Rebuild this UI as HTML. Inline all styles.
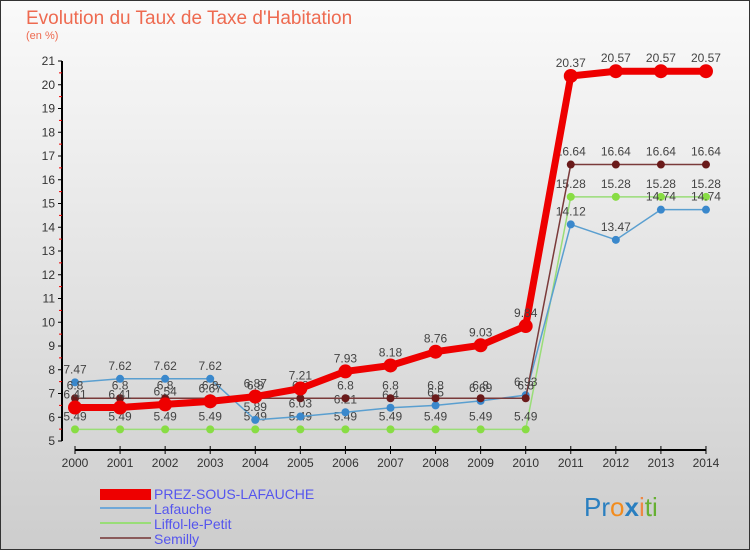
<!DOCTYPE html>
<html><head><meta charset="utf-8"><style>
body{margin:0;width:750px;height:550px;overflow:hidden;font-family:"Liberation Sans",sans-serif}
svg text{font-family:"Liberation Sans",sans-serif}
</style></head><body>
<svg id="c" width="750" height="550">
<defs><linearGradient id="bg" x1="0" y1="0" x2="0" y2="1"><stop offset="0" stop-color="#fafafa"/><stop offset="1" stop-color="#cdcdcd"/></linearGradient></defs>
<rect x="0.5" y="0.5" width="749" height="549" fill="url(#bg)" stroke="#333"/>
<text x="26" y="24" font-size="19" fill="#ee6a50">Evolution du Taux de Taxe d'Habitation</text>
<text x="26" y="39" font-size="11" fill="#ee6a50">(en %)</text>
<g id="axes"></g><g id="series"></g>
<g>
<rect x="100" y="489" width="51" height="11" fill="#e00"/>
<text x="154" y="499" font-size="14" fill="#5555ee">PREZ-SOUS-LAFAUCHE</text>
<line x1="100" y1="508" x2="151" y2="508" stroke="#6fa8d8" stroke-width="2"/>
<text x="154" y="514" font-size="14" fill="#5555ee">Lafauche</text>
<line x1="100" y1="523" x2="151" y2="523" stroke="#99dd77" stroke-width="2"/>
<text x="154" y="529" font-size="14" fill="#5555ee">Liffol-le-Petit</text>
<line x1="100" y1="538" x2="151" y2="538" stroke="#8a5a5a" stroke-width="2"/>
<text x="154" y="544" font-size="14" fill="#5555ee">Semilly</text>
</g>
<g font-size="26">
<text x="584" y="516"><tspan fill="#2a7fc0">Pr</tspan><tspan fill="#f28c1e">o</tspan><tspan fill="#2a7fc0" font-weight="bold">x</tspan><tspan fill="#e84">i</tspan><tspan fill="#66b032">ti</tspan></text>
</g>
</svg>
<script>
const years=[2000,2001,2002,2003,2004,2005,2006,2007,2008,2009,2010,2011,2012,2013,2014];
const prez=[6.41,6.41,6.54,6.67,6.87,7.21,7.93,8.18,8.76,9.03,9.84,20.37,20.57,20.57,20.57];
const lafauche=[7.47,7.62,7.62,7.62,5.89,6.03,6.21,6.4,6.5,6.69,6.93,14.12,13.47,14.74,14.74];
const liffol=[5.49,5.49,5.49,5.49,5.49,5.49,5.49,5.49,5.49,5.49,5.49,15.28,15.28,15.28,15.28];
const semilly=[6.8,6.8,6.8,6.8,6.8,6.8,6.8,6.8,6.8,6.8,6.8,16.64,16.64,16.64,16.64];
const yTicks=[5,6,7,8,9,10,11,12,13,14,15,16,17,18,19,20,21];
const NS='http://www.w3.org/2000/svg';
const X=i=>75+i*45.07, Y=v=>441-(v-5)*23.75;
function el(t,a,p){const e=document.createElementNS(NS,t);for(const k in a)e.setAttribute(k,a[k]);p.appendChild(e);return e;}
const ax=document.getElementById('axes'), sg=document.getElementById('series');
const yl=el('line',{x1:62,y1:Y(21),x2:62,y2:Y(5),stroke:'#000','stroke-width':2},ax);


yTicks.forEach(v=>{
  el('line',{x1:58,y1:Y(v),x2:62,y2:Y(v),stroke:'#000'},ax);
  if(v<21) el('line',{x1:59,y1:Y(v+0.5),x2:62,y2:Y(v+0.5),stroke:'#e00'},ax);
  const t=el('text',{x:55,y:Y(v)+4,'font-size':12,fill:'#333','text-anchor':'end'},ax);
  
  
  t.textContent=v;
});
const xl=el('line',{x1:X(0),y1:450,x2:X(14),y2:450,stroke:'#000','stroke-width':2},ax);


years.forEach((y,i)=>{
  el('line',{x1:X(i),y1:446,x2:X(i),y2:454,stroke:'#000'},ax);
  const t=el('text',{x:X(i),y:467,'font-size':12,fill:'#333','text-anchor':'middle'},ax);
  
  
  t.textContent=y;
});
function series(data,color,w,r,dot,name){
  const g=el('g',{},sg);
  
  
  el('polyline',{points:data.map((v,i)=>X(i)+','+Y(v)).join(' '),fill:'none',stroke:color,'stroke-width':w,'stroke-linejoin':'round'},g);
  data.forEach((v,i)=>{
    const c=el('circle',{cx:X(i),cy:Y(v),r:r,fill:dot},g);
    
    
    const t=el('text',{x:X(i),y:Y(v)-9,'font-size':12,fill:'#444','text-anchor':'middle'},g);
    
    
    t.textContent=v;
  });
}
series(liffol,'#99dd77',1.5,4,'#88dd44','liffol');
series(lafauche,'#5a9fd0',1.5,4,'#3a88cc','lafauche');
series(semilly,'#7a3a3a',1.5,4,'#6a1a1a','semilly');
series(prez,'#ee0000',7,7,'#ee0000','prez');
</script>
</body></html>
